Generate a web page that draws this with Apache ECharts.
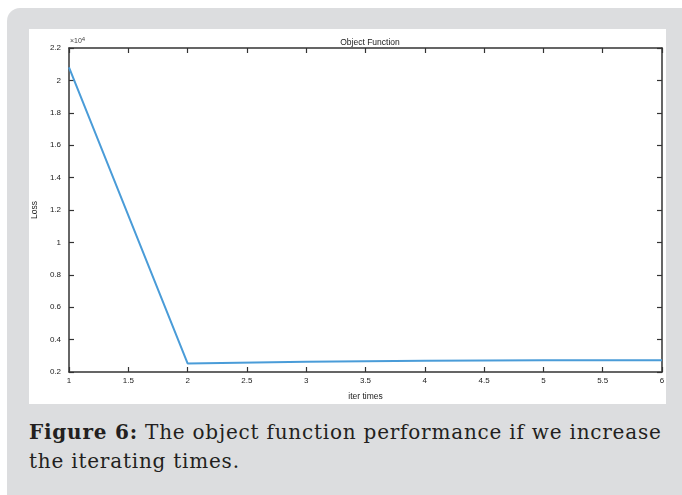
<!DOCTYPE html>
<html>
<head>
<meta charset="utf-8">
<script src="https://cdn.jsdelivr.net/npm/echarts@6/dist/echarts.min.js"></script>
<style>
html,body{margin:0;padding:0;width:682px;height:495px;background:#fff;overflow:hidden;}
#panel{position:absolute;left:7px;top:8px;width:690px;height:500px;background:#dcdddf;border-radius:13px;}
#box{position:absolute;left:29px;top:29px;width:637px;height:375px;background:#fff;}
#chart{position:absolute;left:29px;top:29px;width:637px;height:375px;}
#cap{position:absolute;left:29px;top:418px;width:660px;white-space:nowrap;font-family:"DejaVu Serif",serif;font-size:20px;line-height:29px;color:#231f20;letter-spacing:0.78px;}
</style>
</head>
<body>
<div id="panel"></div>
<div id="box"></div>
<div id="chart"></div>
<div id="cap"><b>Figure 6:</b> The object function performance if we increase<br>the iterating times.</div>
<script>
const iterTimes = [1, 2, 3, 4, 5, 6];
const lossValues = [20800, 2530, 2640, 2700, 2720, 2730];
const xTicks = [1, 1.5, 2, 2.5, 3, 3.5, 4, 4.5, 5, 5.5, 6];
const yTicks = [0.2, 0.4, 0.6, 0.8, 1, 1.2, 1.4, 1.6, 1.8, 2, 2.2];
const yScale = 10000;

const chart = echarts.init(document.getElementById('chart'));
const axisColor = '#333';
const fontFam = '"Liberation Sans", Arial, sans-serif';
const baseAxis = {
  axisLine: {show: true, onZero: false, lineStyle: {color: axisColor, width: 1.5}},
  axisTick: {show: true, inside: true, length: 5, lineStyle: {color: axisColor, width: 1.2}},
  splitLine: {show: false}
};
chart.setOption({
  animation: false,
  title: {text: 'Object Function', left: 336, top: 4, textAlign: 'center',
    textStyle: {fontSize: 8.5, fontWeight: 'normal', color: '#222', fontFamily: fontFam}},
  grid: {left: 40, right: 4, top: 19, bottom: 32, containLabel: false, outerBoundsMode: 'none'},
  graphic: [{type: 'text', left: 41, top: 7,
    style: {text: '{a|×10}{b|4}', rich: {a: {fontSize: 7, fill: '#444', fontFamily: fontFam},
      b: {fontSize: 6, fill: '#444', verticalAlign: 'top', padding: [0,0,5,0], fontFamily: fontFam}}}}],
  xAxis: [
    Object.assign({type: 'value', min: xTicks[0], max: xTicks[xTicks.length-1], interval: 0.5, position: 'bottom',
      name: 'iter times', nameLocation: 'middle', nameGap: 20,
      nameTextStyle: {fontSize: 8.5, color: '#222', fontFamily: fontFam},
      axisLabel: {fontSize: 8, color: '#222', margin: 5, fontFamily: fontFam}}, baseAxis),
    Object.assign({type: 'value', min: xTicks[0], max: xTicks[xTicks.length-1], interval: 0.5, position: 'top',
      axisLabel: {show: false}}, baseAxis)
  ],
  yAxis: [
    Object.assign({type: 'value', min: yTicks[0]*yScale, max: yTicks[yTicks.length-1]*yScale, interval: 0.2*yScale, position: 'left',
      name: 'Loss', nameLocation: 'middle', nameGap: 24, nameRotate: 90,
      nameTextStyle: {fontSize: 8.5, color: '#222', fontFamily: fontFam},
      axisLabel: {fontSize: 8, color: '#222', margin: 8, fontFamily: fontFam,
        formatter: v => String(Math.round(v/yScale*10)/10)}}, baseAxis),
    Object.assign({type: 'value', min: yTicks[0]*yScale, max: yTicks[yTicks.length-1]*yScale, interval: 0.2*yScale, position: 'right',
      axisLabel: {show: false}}, baseAxis)
  ],
  series: [{type: 'line', data: iterTimes.map((x,i)=>[x, lossValues[i]]), symbol: 'none',
    lineStyle: {color: '#4a9cd8', width: 2}}]
});
</script>
</body>
</html>
